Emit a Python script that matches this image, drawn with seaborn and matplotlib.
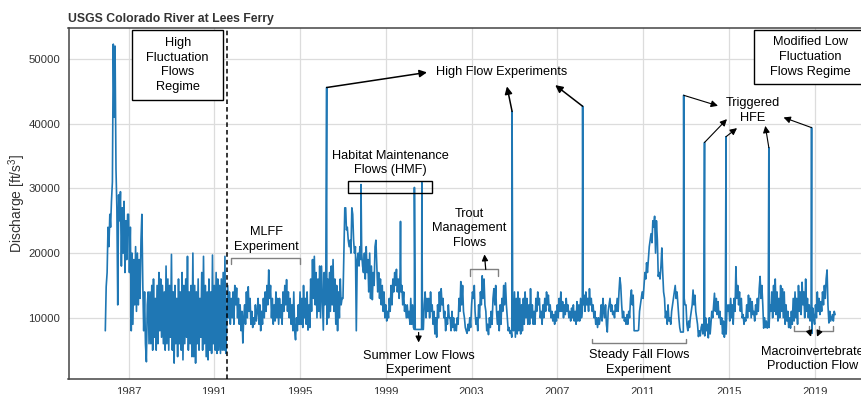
import pandas as pd
import matplotlib
matplotlib.use("Agg")
import matplotlib.pyplot as plt
import matplotlib.dates as mdates
from matplotlib.patches import Rectangle
import seaborn as sns

# ---------------- data (semi-monthly readings: 1st and 16th of each month) ----------------
q1985 = [8000, 14800]  # December only
q1986 = [17000, 24000, 21000, 26000, 24000, 28000, 31000, 52300, 41000, 52000, 33000, 27000,
         12000, 29000, 25000, 29500, 18000, 27000, 20000, 28000, 17000, 25000, 19000, 26000]
q1987 = [26000, 17000, 24000, 8000, 20000, 9000, 19000, 12000, 21000, 11000, 20000, 12000,
         19000, 13000, 22000, 26000, 15000, 8000, 14000, 6000, 3200, 12000, 14000, 6000]
q1988 = [14000, 6000, 15000, 5000, 16000, 7000, 13000, 5000, 15000, 6000, 17000, 8000,
         16000, 7000, 15000, 6000, 14000, 5000, 18000, 6000, 16000, 5000, 15000, 7000]
q1989 = [19800, 5000, 14000, 3000, 15000, 6000, 13000, 4000, 16000, 6000, 14000, 5000,
         17000, 3500, 15000, 6000, 16000, 7000, 19500, 5000, 14000, 6000, 15000, 4000]
q1990 = [20000, 4000, 15000, 3000, 14000, 6000, 16000, 5000, 13000, 7000, 17000, 5000,
         19500, 6000, 15000, 4000, 14000, 3500, 16000, 5000, 14000, 4500, 19700, 6000]
q1991 = [15000, 5000, 17000, 4500, 16000, 5000, 15000, 4500, 16000, 5000, 17000, 5000,
         19500, 4500, 9000, 15000, 10000, 14000, 9000, 13000, 10000, 14000, 9000, 15000]
q1992 = [12000, 14600, 10000, 13000, 9000, 12000, 8000, 11000, 6100, 10000, 12000, 9000,
         14000, 10000, 14800, 11000, 13000, 9000, 11000, 8500, 10000, 9000, 12000, 9500]
q1993 = [11000, 13000, 9000, 12000, 8000, 11000, 9000, 13000, 10000, 14000, 11000, 15000,
         12000, 17400, 13000, 15000, 10000, 13000, 9000, 12000, 9500, 14000, 10000, 13000]
q1994 = [9000, 13000, 10000, 12000, 9000, 14000, 11000, 15000, 12000, 15900, 11000, 14000,
         10000, 13000, 9000, 12000, 8000, 14000, 8000, 6600, 10000, 8000, 12000, 9000]
q1995 = [14000, 9000, 13000, 8500, 15000, 10000, 13000, 9000, 14000, 8100, 12000, 8500,
         16000, 11000, 19000, 13000, 19500, 12000, 17000, 10000, 16000, 11000, 18000, 10000]
q1996 = [18000, 13000, 8100, 17000, 12000, 18000, 9000, 16000, 10000, 17000, 11000, 18000,
         12000, 19000, 11000, 16000, 9000, 15000, 8000, 14000, 10000, 16000, 12000, 13000]
q1997 = [13000, 20000, 27000, 27000, 23600, 24000, 22000, 21000, 22000, 20000, 27000, 26000,
         22000, 20000, 21000, 8000, 19000, 20000, 18000, 21000, 19000, 20000, 18000, 17000]
q1998 = [20000, 16000, 21000, 17000, 19000, 14000, 20000, 13000, 18000, 12800, 17000, 15000,
         21000, 22000, 18000, 14000, 17000, 13000, 16000, 12000, 15000, 11000, 14000, 10000]
q1999 = [12000, 9500, 11000, 10000, 13000, 11000, 15000, 12000, 16000, 14000, 17000, 15000,
         17500, 14000, 16000, 13000, 17000, 14000, 15000, 12000, 14000, 11000, 12000, 10000]
q2000 = [12000, 10000, 11000, 9000, 13000, 9000, 12000, 8500, 8200, 8200, 8200, 8200,
         8200, 8200, 8200, 8200, 8200, 8200, 8200, 12000, 14000, 10000, 13000, 11000]
q2001 = [13000, 10000, 14000, 11000, 12000, 9000, 11000, 7500, 10000, 7000, 12000, 10000,
         14000, 11000, 14500, 12000, 13000, 10000, 11000, 8000, 10000, 9000, 12000, 10000]
q2002 = [10000, 8000, 11000, 8500, 10000, 8000, 9000, 8000, 10000, 9000, 13000, 11000,
         15600, 12000, 15000, 11000, 10000, 8500, 8000, 7600, 9000, 8000, 10000, 8500]
q2003 = [12000, 14000, 13000, 15000, 11000, 9000, 10000, 8000, 12000, 10000, 14000, 12000,
         16500, 13000, 16000, 12000, 11000, 8000, 9000, 7400, 10000, 8500, 11000, 9000]
q2004 = [13000, 14500, 12000, 15000, 11000, 9000, 11000, 8000, 12000, 9000, 13000, 11000,
         15000, 12000, 15400, 12000, 10000, 8000, 8500, 7600, 8000, 7000, 12000, 8000]
q2005 = [14000, 7000, 13000, 7500, 14000, 8000, 13000, 7500, 12000, 8000, 13000, 9000,
         14000, 10000, 13000, 9000, 12000, 9000, 14500, 10000, 12000, 9000, 11000, 9000]
q2006 = [13000, 11000, 14000, 12000, 13000, 10000, 11000, 9000, 12000, 10000, 13000, 11000,
         14000, 12000, 13500, 11000, 12000, 10000, 11000, 9500, 10500, 9000, 11000, 9500]
q2007 = [12000, 10000, 13000, 11000, 14000, 11000, 12500, 10000, 12000, 10500, 13000, 11000,
         12000, 10000, 11000, 9500, 11500, 10000, 12000, 9500, 11000, 9000, 12500, 9500]
q2008 = [12000, 9500, 13000, 10000, 11000, 12000, 13500, 11000, 14000, 12000, 13000, 11000,
         14500, 12000, 13000, 11000, 12000, 10000, 11000, 9000, 10000, 8500, 10000, 9000]
q2009 = [10000, 12000, 9500, 13000, 11000, 10000, 12000, 9000, 7800, 11000, 12000, 13000,
         11000, 12000, 10500, 11000, 10000, 12000, 11000, 13000, 11000, 14000, 16200, 15000]
q2010 = [12000, 10000, 11000, 9500, 10000, 9000, 10500, 9000, 11000, 10000, 13000, 14300,
         12000, 13500, 8000, 8000, 8000, 8000, 8000, 8100, 11000, 12000, 13000, 14000]
q2011 = [13000, 15000, 17000, 16000, 18500, 17000, 19000, 21000, 22000, 23000, 21600, 25000,
         24000, 25700, 20000, 25000, 22000, 16400, 17000, 16000, 18000, 20800, 17000, 14000]
q2012 = [13000, 10000, 11000, 9000, 12000, 9500, 10000, 9000, 11000, 12000, 13000, 14000,
         15000, 13000, 14000, 12000, 10000, 8500, 7800, 7800, 7800, 7800, 13000, 12000]
q2013 = [12000, 9000, 8000, 9500, 8500, 10000, 11000, 12000, 14300, 12000, 13500, 11000,
         10000, 9000, 7100, 8000, 7200, 8500, 9000, 7500, 8500, 7200, 10000, 8000]
q2014 = [9000, 6900, 10000, 7500, 9000, 11000, 10000, 12000, 13800, 11000, 13000, 10500,
         12500, 10000, 11000, 9000, 10000, 7500, 9500, 7000, 8500, 7500, 12000, 11000]
q2015 = [12000, 9500, 13000, 10000, 12000, 9000, 13000, 11000, 17900, 13000, 15000, 12000,
         14000, 11000, 13000, 10000, 10500, 9000, 10000, 9500, 12000, 10000, 13500, 11000]
q2016 = [13000, 10000, 12500, 10500, 11000, 9500, 12000, 10500, 13000, 11000, 14500, 16400,
         13000, 15000, 12000, 8400, 10000, 8500, 9500, 8400, 9000, 8500, 12000, 11000]
q2017 = [14000, 10000, 15000, 11000, 16000, 10500, 14000, 9500, 13000, 10000, 15000, 11000,
         14500, 10000, 14000, 9000, 12000, 9500, 11000, 8500, 10000, 8400, 11000, 9000]
q2018 = [13000, 9500, 14000, 10000, 13000, 9000, 15000, 11000, 14000, 10500, 15500, 12000,
         14000, 10000, 16000, 11000, 13000, 10000, 12000, 9500, 11000, 7600, 11500, 10000]
q2019 = [9000, 12000, 10000, 14000, 11000, 13000, 10500, 12500, 11000, 14000, 12000, 15000,
         13000, 16000, 17400, 12000, 9200, 11000, 9500, 10000, 10500, 9500, 11000, 10500]

# single-day peaks (High Flow Experiments and other short releases)
hfe_dates = ["1996-03-29", "2004-11-21", "2008-03-07", "2012-11-22",
             "2013-11-12", "2014-11-14", "2016-11-12", "2018-11-10"]
hfe_peaks = [45600, 41900, 42700, 44400, 37100, 38000, 36300, 39400]
other_dates = ["1997-11-04", "1999-09-08", "2000-05-02", "2000-09-06"]
other_peaks = [30600, 24900, 30150, 30900]

tick_years = [1987, 1991, 1995, 1999, 2003, 2007, 2011, 2015, 2019]
ytick_values = [10000, 20000, 30000, 40000, 50000]

# ---------------- assemble series ----------------
full_years = list(range(1986, 2020))
full_values = [q1986, q1987, q1988, q1989, q1990, q1991, q1992, q1993, q1994, q1995,
               q1996, q1997, q1998, q1999, q2000, q2001, q2002, q2003, q2004, q2005,
               q2006, q2007, q2008, q2009, q2010, q2011, q2012, q2013, q2014, q2015,
               q2016, q2017, q2018, q2019]
dates, vals = [pd.Timestamp(1985, 12, 1), pd.Timestamp(1985, 12, 16)], list(q1985)
for y, v in zip(full_years, full_values):
    assert len(v) == 24, y
    dates += [pd.Timestamp(y, m, d) for m in range(1, 13) for d in (1, 16)]
    vals += v
dates += [pd.Timestamp(d) for d in hfe_dates + other_dates]
vals += hfe_peaks + other_peaks
df = pd.DataFrame({"date": dates, "discharge": vals}).sort_values("date")

# ---------------- style ----------------
sns.set_theme(style="whitegrid")
plt.rcParams["font.family"] = ["Liberation Sans", "DejaVu Sans"]
plt.rcParams["mathtext.fontset"] = "custom"
plt.rcParams["mathtext.rm"] = "Liberation Sans"
plt.rcParams["mathtext.it"] = "Liberation Sans:italic"

fig = plt.figure(figsize=(8.61, 3.94), dpi=100)
ax = fig.add_axes([68.5 / 861, 15 / 394, 803.4 / 861, 351 / 394])

sns.lineplot(data=df, x="date", y="discharge", ax=ax, color="#1f77b4",
             lw=1.2, estimator=None, sort=True, zorder=2)


def yr(y):
    base = pd.Timestamp(int(y), 1, 1)
    return mdates.date2num(base + pd.Timedelta(days=(y - int(y)) * 365.25))


ax.set_xlim(yr(1984.2), yr(2021.67))
ax.set_ylim(540, 54800)
ax.set_xticks([mdates.date2num(pd.Timestamp(y, 1, 1)) for y in tick_years])
ax.set_xticklabels([str(y) for y in tick_years])
ax.set_yticks(ytick_values)
ax.set_yticklabels([str(v) for v in ytick_values])
ax.tick_params(axis="both", labelsize=8.2, labelcolor="#333333", color="#444444",
               length=3, width=1, pad=3)
ax.grid(True, color="#dcdcdc", lw=0.9)
for side in ["left", "bottom", "top", "right"]:
    ax.spines[side].set_color("#444444")
    ax.spines[side].set_linewidth(1.1)
ax.set_xlabel("")
ax.set_ylabel("Discharge [ft/s$^3$]", fontsize=10, color="#333333", labelpad=0)
ax.set_title("USGS Colorado River at Lees Ferry", loc="left", fontsize=8.8,
             fontweight="bold", color="#333333", pad=4)

# regime boundary
ax.axvline(mdates.date2num(pd.Timestamp("1991-08-01")), color="black", ls=(0, (3, 2)), lw=1.1, zorder=3)

FS = 9.2


def box(x0, x1, v0, v1, fill=True):
    ax.add_patch(Rectangle((yr(x0), v0), yr(x1) - yr(x0), v1 - v0, facecolor="white" if fill else "none",
                           edgecolor="black", lw=1.0, zorder=4 if fill else 3))


def label(x, v, s):
    ax.text(yr(x), v, s, ha="center", va="center", fontsize=FS, color="black", zorder=5, linespacing=1.3)


def arrow(tail, head, lw=1.0, ms=10):
    ax.annotate("", xy=head, xytext=tail,
                arrowprops=dict(arrowstyle="-|>", color="black", lw=lw, shrinkA=0, shrinkB=0,
                                mutation_scale=ms), zorder=5)


def bracket(x0, x1, v, tip, color="#808080"):
    ax.plot([yr(x0), yr(x0), yr(x1), yr(x1)], [tip, v, v, tip], color=color, lw=1.0, zorder=3)


# regime boxes
box(1987.18, 1991.42, 43640, 54490)
label(1989.29, 49070, "High\nFluctuation\nFlows\nRegime")
box(2016.18, 2021.72, 46110, 54490)
label(2018.80, 50310, "Modified Low\nFluctuation\nFlows Regime")

# MLFF
bracket(1991.79, 1995.0, 19190, 18260)
label(1993.43, 22130, "MLFF\nExperiment")

# HMF
box(1997.25, 2001.17, 29250, 31110, fill=False)
label(1999.23, 33910, "Habitat Maintenance\nFlows (HMF)")

# High flow experiments
label(2004.38, 47990, "High Flow Experiments")
hfe_heads = [(2000.92, 47940), (2004.65, 45770), (2006.90, 45970)]
for d, p, h in zip(hfe_dates[:3], hfe_peaks[:3], hfe_heads):
    arrow((mdates.date2num(pd.Timestamp(d)), p), (yr(h[0]), h[1]), lw=1.1, ms=11)

# Triggered HFE
label(2016.13, 42030, "Triggered\nHFE")
trig_heads = [(2014.49, 42770), (2014.91, 40710), (2015.38, 39320), (2016.70, 39670), (2017.55, 40970)]
for d, p, h in zip(hfe_dates[3:], hfe_peaks[3:], trig_heads):
    arrow((mdates.date2num(pd.Timestamp(d)), p), (yr(h[0]), h[1]), lw=0.8, ms=10)

# Trout management flows
bracket(2002.94, 2004.25, 17480, 16400)
arrow((yr(2003.66), 17480), (yr(2003.60), 19800), lw=0.9, ms=9)
label(2002.90, 23830, "Trout\nManagement\nFlows")

# Summer low flows
arrow((yr(2000.53), 7730), (yr(2000.53), 6180), lw=0.9, ms=9)
label(2000.53, 3000, "Summer Low Flows\nExperiment")

# Steady fall flows
bracket(2008.61, 2013.01, 6180, 6800)
label(2010.80, 3080, "Steady Fall Flows\nExperiment")

# Macroinvertebrate production flows
bracket(2018.02, 2018.75, 7930, 8660)
bracket(2019.86, 2019.22, 7930, 8660)
arrow((yr(2018.75), 7930), (yr(2018.83), 7060), lw=0.9, ms=9)
arrow((yr(2019.22), 7930), (yr(2019.11), 7060), lw=0.9, ms=9)
label(2018.89, 3620, "Macroinvertebrate\nProduction Flow")

fig.savefig("out.png", dpi=100)
